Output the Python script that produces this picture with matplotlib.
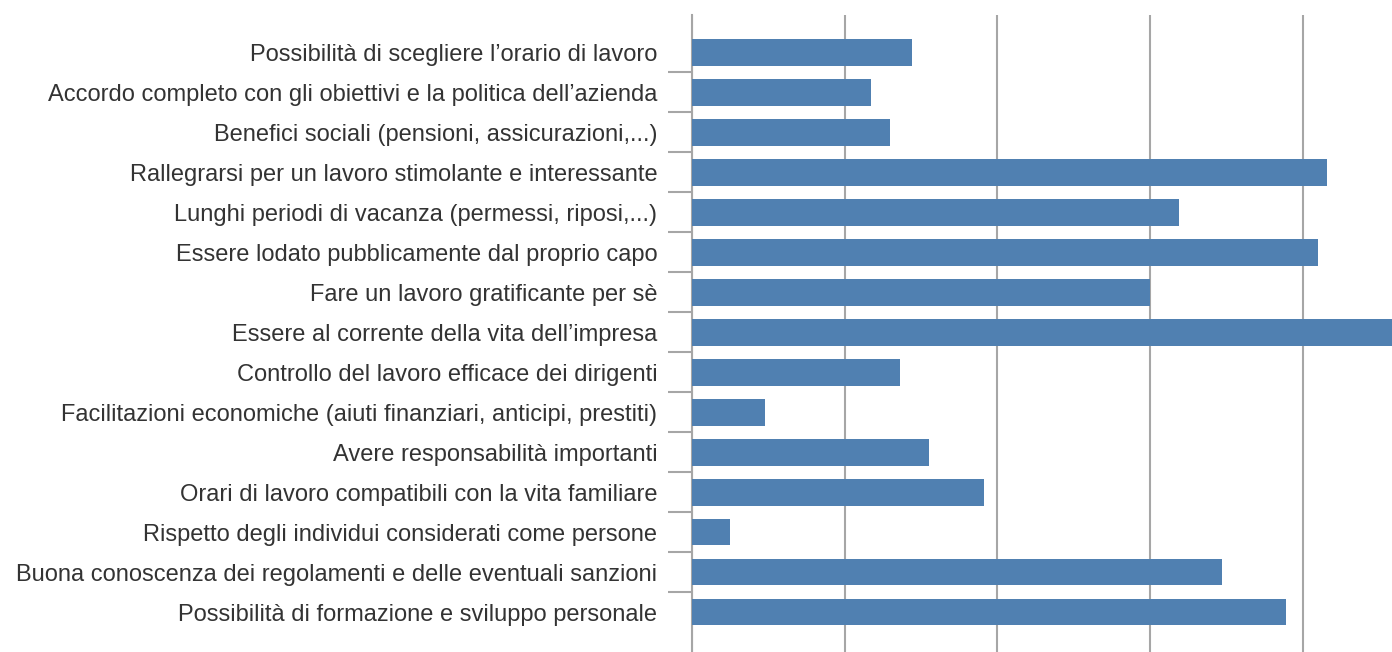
import matplotlib
matplotlib.use("Agg")
import matplotlib.pyplot as plt
import numpy as np

categories = [
    "Possibilità di scegliere l’orario di lavoro",
    "Accordo completo con gli obiettivi e la politica dell’azienda",
    "Benefici sociali (pensioni, assicurazioni,...)",
    "Rallegrarsi per un lavoro stimolante e interessante",
    "Lunghi periodi di vacanza (permessi, riposi,...)",
    "Essere lodato pubblicamente dal proprio capo",
    "Fare un lavoro gratificante per sè",
    "Essere al corrente della vita dell’impresa",
    "Controllo del lavoro efficace dei dirigenti",
    "Facilitazioni economiche (aiuti finanziari, anticipi, prestiti)",
    "Avere responsabilità importanti",
    "Orari di lavoro compatibili con la vita familiare",
    "Rispetto degli individui considerati come persone",
    "Buona conoscenza dei regolamenti e delle eventuali sanzioni",
    "Possibilità di formazione e sviluppo personale",
]
values = [1.44, 1.17, 1.30, 4.16, 3.19, 4.10, 3.00, 4.70, 1.36, 0.48, 1.55, 1.91, 0.25, 3.47, 3.89]

plt.rcParams['font.family'] = ['Liberation Sans', 'DejaVu Sans']

fig = plt.figure(figsize=(13.92, 6.52), dpi=100)
ax = fig.add_axes([692/1392, 0.0, 1 - 692/1392, 1 - 15/652])
ax.set_axisbelow(True)

y = np.arange(len(categories))
ax.barh(y, values, height=0.67, color="#5080B1", zorder=3)

ax.set_xlim(0, 4.585)
ax.set_ylim(15.0, -0.9375)

ax.set_xticks([0, 1, 2, 3, 4])
ax.xaxis.grid(True, color="#A6A6A6", linewidth=1.5)
ax.tick_params(axis='x', length=0, labelbottom=False)

ax.set_yticks(y)
ax.set_yticklabels(categories, fontsize=17, color="#333333")
ax.set_yticks(np.arange(len(categories) - 1) + 0.5, minor=True)
ax.tick_params(axis='y', which='major', length=0, pad=25)
ax.tick_params(axis='y', which='minor', length=17, width=1.5, color="#A6A6A6")

for s in ax.spines.values():
    s.set_visible(False)
ax.spines['left'].set_visible(True)
ax.spines['left'].set_color("#A6A6A6")
ax.spines['left'].set_linewidth(1.5)

fig.savefig("out.png", dpi=100)
